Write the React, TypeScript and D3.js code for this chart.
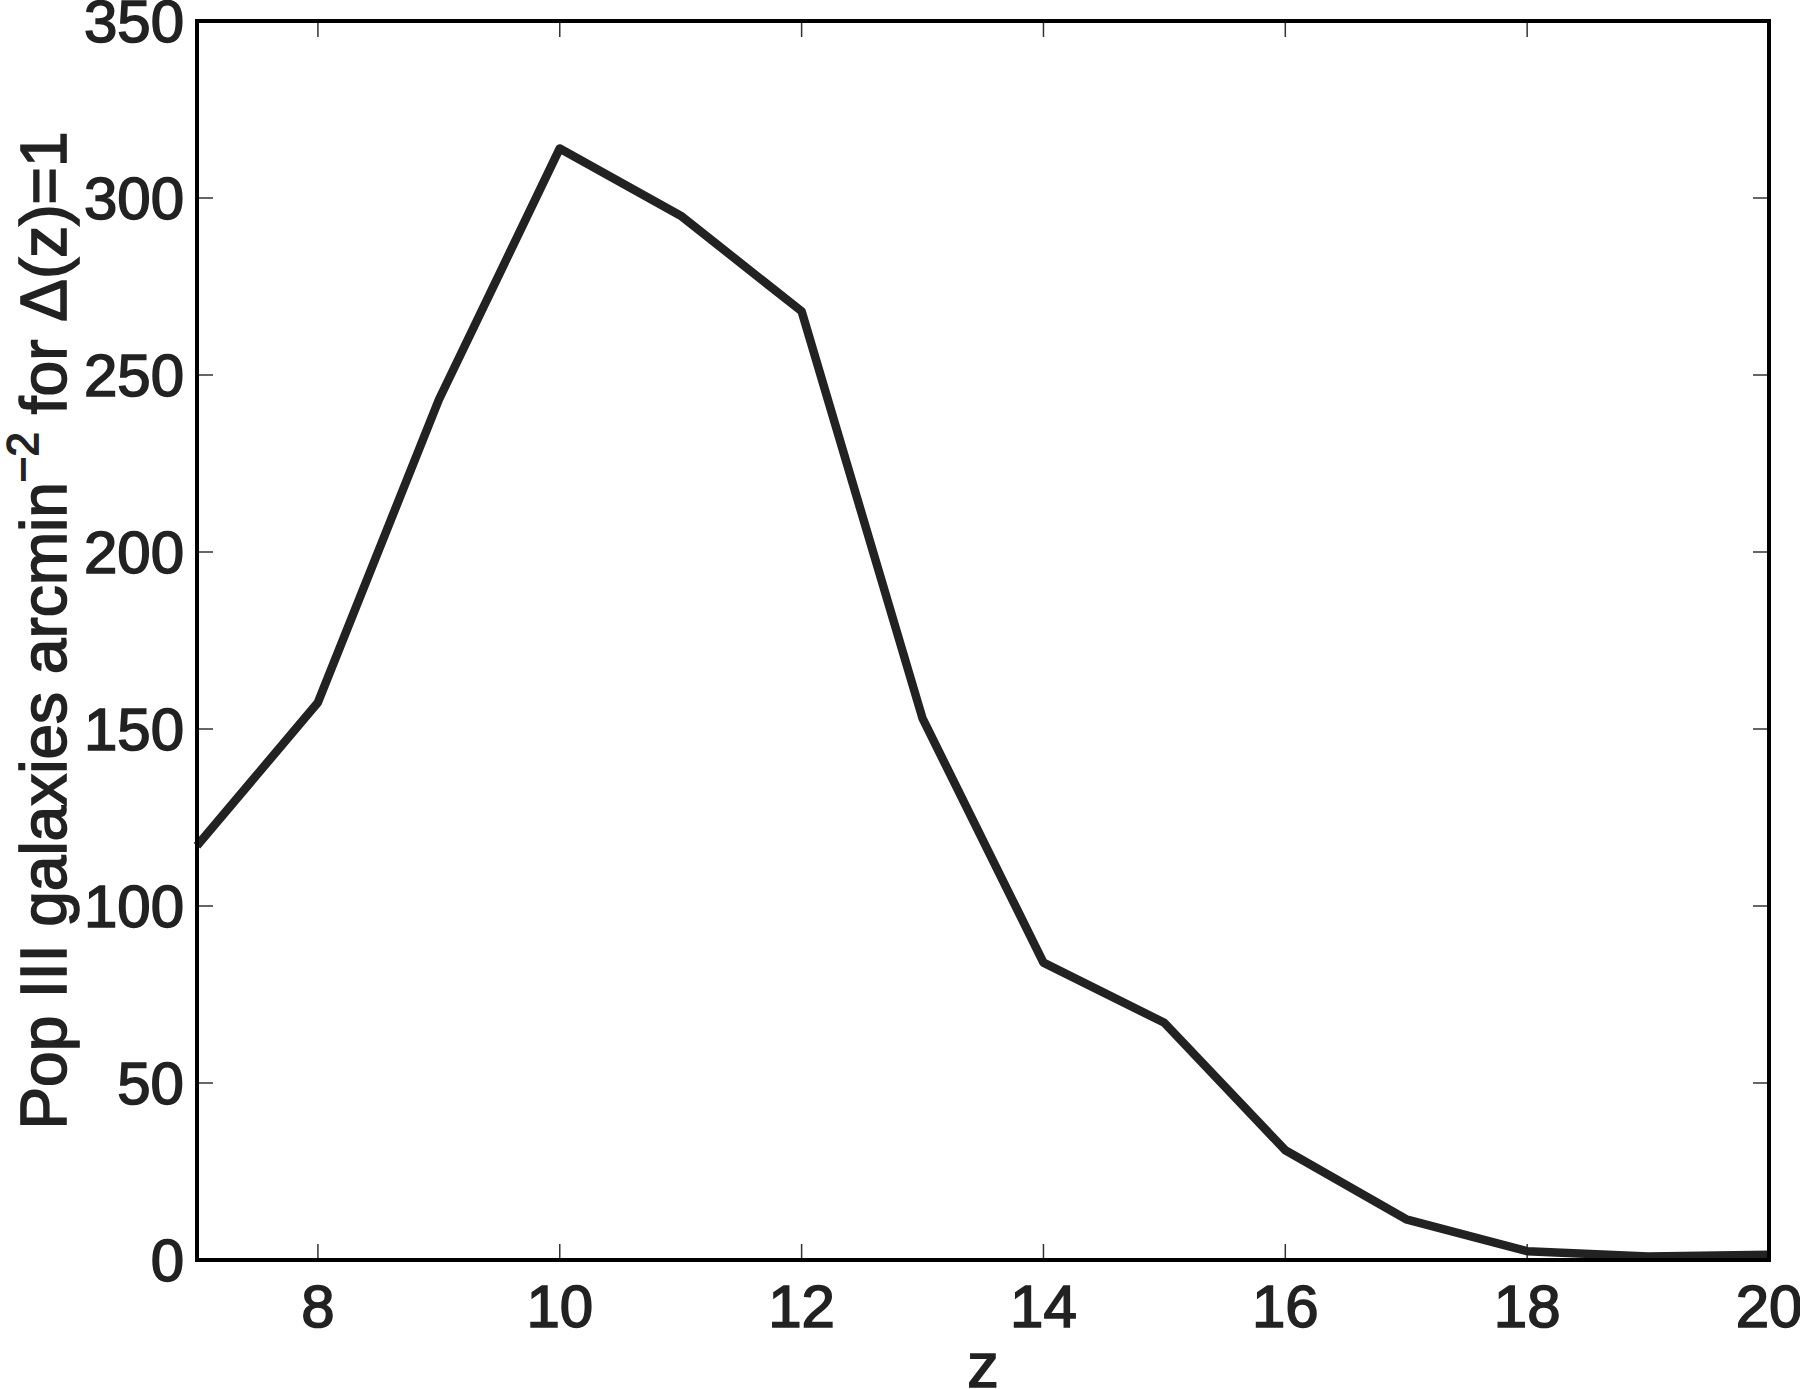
import React from "react";
import * as d3 from "d3";

const zValues = [7, 8, 9, 10, 11, 12, 13, 14, 15, 16, 17, 18, 19, 20];
const galaxyCounts = [117, 157.5, 243, 314, 295, 268, 153, 84, 67, 31, 11.5, 2.5, 1, 1.5];
const xTicks = [8, 10, 12, 14, 16, 18, 20];
const yTicks = [0, 50, 100, 150, 200, 250, 300, 350];

const W = 1800;
const H = 1389;
const left = 197;
const right = 1769;
const top = 21;
const bottom = 1260;
const FONT = "'Liberation Sans', Arial, Helvetica, sans-serif";

export default function App() {
  const x = d3.scaleLinear().domain([7, 20]).range([left, right]);
  const y = d3.scaleLinear().domain([0, 350]).range([bottom, top]);
  const line = d3
    .line<number>()
    .x((_, i) => x(zValues[i]))
    .y((d) => y(d));
  const tickLen = 16;
  const textStyle = { stroke: "#222", strokeWidth: 1.6 } as const;
  return (
    <svg
      width={W}
      height={H}
      style={{ position: "absolute", left: 0, top: 0, background: "#fff" }}
      fontFamily={FONT}
    >
      <rect x={0} y={0} width={W} height={H} fill="#fff" />
      {xTicks.map((t) => (
        <g key={"xt" + t} stroke="#333" strokeWidth={1.5}>
          <line x1={x(t)} x2={x(t)} y1={bottom} y2={bottom - tickLen} />
          <line x1={x(t)} x2={x(t)} y1={top} y2={top + tickLen} />
        </g>
      ))}
      {yTicks.map((t) => (
        <g key={"yt" + t} stroke="#333" strokeWidth={1.5}>
          <line x1={left} x2={left + tickLen} y1={y(t)} y2={y(t)} />
          <line x1={right} x2={right - tickLen} y1={y(t)} y2={y(t)} />
        </g>
      ))}
      <path
        d={line(galaxyCounts) || ""}
        fill="none"
        stroke="#222"
        strokeWidth={8.5}
        strokeLinejoin="round"
      />
      <rect
        x={left}
        y={top}
        width={right - left}
        height={bottom - top}
        fill="none"
        stroke="#000"
        strokeWidth={4}
      />
      {yTicks.map((t) => (
        <text
          key={"yl" + t}
          x={left - 13}
          y={y(t) + 21}
          textAnchor="end"
          fontSize={60}
          fill="#222"
          {...textStyle}
        >
          {t}
        </text>
      ))}
      {xTicks.map((t) => (
        <text
          key={"xl" + t}
          x={x(t)}
          y={bottom + 67}
          textAnchor="middle"
          fontSize={60}
          fill="#222"
          {...textStyle}
        >
          {t}
        </text>
      ))}
      <text
        x={(left + right) / 2}
        y={1387}
        textAnchor="middle"
        fontSize={63}
        fill="#222"
        {...textStyle}
      >
        z
      </text>
      <text
        transform={`translate(66, ${(top + bottom) / 2 - 10}) rotate(-90)`}
        textAnchor="middle"
        fontSize={64}
        fill="#222"
        {...textStyle}
      >
        Pop III galaxies arcmin
        <tspan fontSize={44} dy={-28}>−2</tspan>
        <tspan dy={28}> for Δ(z)=1</tspan>
      </text>
    </svg>
  );
}
